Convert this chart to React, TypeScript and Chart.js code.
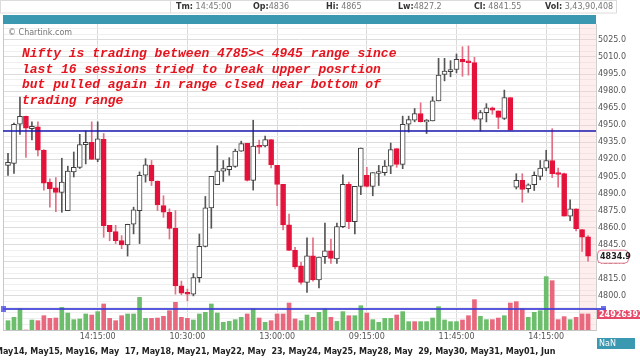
import React, { useEffect, useRef } from "react";
import { Chart, registerables } from "chart.js";
Chart.register(...registerables);

const opens = [4914.7,4916.5,4950.9,4957.9,4947,4948.5,4928,4900,4895,4891,4875,4909,4913,4933,4935,4920,4937.7,4862,4856.5,4848.5,4844.7,4863,4875,4906,4915,4901,4879.4,4873.5,4859.4,4808.8,4803,4801.5,4816,4843.5,4877.4,4897.7,4909.7,4911,4913.8,4927.3,4934,4901.5,4932,4931.8,4937.5,4914.7,4898,4862.4,4840,4826.5,4811.8,4835.3,4814,4834.4,4839.7,4832.4,4860.9,4898,4865.3,4896.2,4905.9,4896.2,4908,4908.3,4914,4929.4,4915.6,4950.9,4954.4,4960.3,4952.9,4953.8,4971.4,4994.7,4997,4999,5008,5006.5,5005,4955.3,4961,4965.3,4962.6,4955.9,4974.4,4895.6,4901.5,4894.2,4897.7,4905,4912.3,4919,4908,4907.4,4870,4876.5,4858.2,4852];
const highs = [4925.3,4952,4974.7,4958,4953,4953,4928.5,4903,4904,4921,4914,4926.5,4942,4945,4953,4953,4942.7,4862,4862,4853,4863,4878,4909,4920.6,4919,4901,4888,4876.5,4875,4813,4806,4819.7,4854.4,4887.4,4905,4932,4919,4921.5,4929,4936,4934,4954.4,4937,4940.5,4937.5,4914.7,4898,4872,4842.6,4829.4,4851,4851,4834,4864,4850,4864,4906.5,4900,4896.2,4930,4913,4908.3,4914.7,4919,4934.4,4929.4,4958,4958,4964.7,4969.7,4955,4975,5008.8,5008.8,5006.8,5012.6,5019,5019.7,5009.7,4963,4969,4966,4962.6,4980.9,4974.4,4907.4,4907.4,4898.5,4909,4919,4928,4947,4912.3,4908,4884.4,4876.5,4858.2,4853];
const lows = [4905.9,4907.6,4942,4921.8,4937,4923,4893,4878,4874,4873.5,4875,4904.5,4912,4916,4920,4918,4851.5,4848.5,4846,4841.5,4835,4854.5,4846,4900,4897,4875,4869,4850,4801.5,4801,4795.6,4800,4812,4843,4859.4,4897.7,4900.6,4906,4913,4927,4901,4893,4925,4931,4912.4,4879.4,4858,4840,4823.6,4810.3,4803,4813,4807,4828.5,4828.5,4828.5,4860,4859,4854.5,4889,4895.6,4888,4897,4906,4907.4,4913,4911.8,4944,4953,4952.9,4942.7,4953.8,4971.4,4989,4992.6,4996,4993,4994,4954.4,4945,4952.9,4959.7,4947,4955,4945.6,4894,4882.3,4891,4892.6,4902,4910,4904,4895.6,4870,4866.2,4857,4839,4830.5];
const closes = [4917.4,4950.9,4957.9,4947.4,4949,4928,4899,4894,4891,4900,4909.7,4913,4933,4935,4920,4938,4861.8,4856.5,4848.5,4844.7,4863,4875.6,4906,4915.3,4901,4880,4873.5,4859.4,4808.8,4802.4,4801.5,4816,4843.5,4877.4,4905,4909.7,4911.8,4913.8,4927.3,4933.9,4901.5,4931.7,4931,4937.5,4915.3,4897.9,4862.4,4840,4825.5,4811.8,4835.3,4814,4834,4839.7,4833,4860.9,4898,4865.3,4896.2,4930,4896.2,4908.3,4909,4914,4928.6,4915.6,4950.9,4955,4960.3,4952.9,4954.4,4971.4,4994,4997.6,4999,5008,5005.9,5005,4955.3,4961.2,4965.3,4963.2,4956.8,4974.4,4945.6,4901.5,4893.5,4897.7,4906,4912.3,4919,4907.4,4907,4870,4876.5,4859,4851.5,4834.9];
// volume in millions of shares
const volumes = [10.8,14.7,24.4,0,11.6,10.8,16.6,13.5,13.9,26.3,19.7,12,12.8,18.6,17.4,21.3,30.2,13.5,10.8,16.6,18.6,18.6,37.9,13.5,13.5,13.9,15.9,22.4,32.1,14.7,13.5,11.6,18.6,20.5,30.2,19.7,8.9,10,12,14.7,18.6,24.4,13.9,8.9,10.8,18.6,18.6,31.3,12.8,10.8,17.4,14.7,20.5,24.4,14.7,10,21.3,16.6,16.6,28.2,19.7,12,8.9,13.5,13.5,17.4,21.3,9.7,9.7,9.7,9.7,13.9,27.1,11.6,9.7,9.7,11.6,16.6,35.2,15.9,12,12,13.9,16.6,31.3,32.9,24.4,14.7,20.5,22.4,61.9,57.2,12,15.5,12,14.7,18.6,18.6];
// 1 = rising volume bar (green), 0 = falling (red)
const volumeUp = [1,1,1,0,1,0,0,0,0,1,1,1,1,1,0,1,0,0,0,0,1,1,1,1,0,0,0,0,0,0,0,1,1,1,1,1,1,1,1,1,0,1,0,1,0,0,0,0,0,1,1,0,1,1,0,1,1,0,1,1,0,1,1,1,1,0,1,1,0,1,1,1,1,1,1,1,0,0,0,1,1,0,0,1,0,0,0,1,1,1,1,0,0,0,1,0,0,0];

const timeTickIndex = [15, 30, 45, 60, 75, 90];
const timeTickLabels = ["14:15:00", "10:30:00", "13:00:00", "09:15:00", "11:45:00", "14:15:00"];
const priceTicks = [4800, 4815, 4830, 4845, 4860, 4875, 4890, 4905, 4920, 4935, 4950, 4965, 4980, 4995, 5010, 5025];
const rangeLine = 4945;
const volumeAvg = 24926392;
const lastPrice = 4834.9;
const dateText = "May14, May15, May16, May  17, May18, May21, May22, May  23, May24, May25, May28, May  29, May30, May31, May01, Jun";
const noteLines = [
  "Nifty is trading between 4785>< 4945 range since",
  "last 16 sessions tried to break upper posrtion",
  "but pulled again in range clsed near bottom of",
  "trading range",
];
const headerKeys = ["Tm:", "Op:", "Hi:", "Lw:", "Cl:", "Vol:"];
const headerVals = [" 14:45:00", "4836", " 4865", "4827.2", " 4841.55", " 3,43,90,408"];
const shadeFromIndex = 95.5;

const RED = "rgb(228,18,58)";
const RED_WICK = "rgb(228,110,132)";
const UP_LINE = "#3e3e3e";
const VOL_G = "rgb(108,190,108)";
const VOL_R = "rgb(232,104,126)";
const FONT = "'DejaVu Sans'";

function roundRect(ctx: CanvasRenderingContext2D, x: number, y: number, w: number, h: number, r: number) {
  ctx.beginPath();
  ctx.moveTo(x + r, y);
  ctx.lineTo(x + w - r, y);
  ctx.quadraticCurveTo(x + w, y, x + w, y + r);
  ctx.lineTo(x + w, y + h - r);
  ctx.quadraticCurveTo(x + w, y + h, x + w - r, y + h);
  ctx.lineTo(x + r, y + h);
  ctx.quadraticCurveTo(x, y + h, x, y + h - r);
  ctx.lineTo(x, y + r);
  ctx.quadraticCurveTo(x, y, x + r, y);
  ctx.closePath();
}

const overlay = {
  id: "overlay",
  beforeDraw(chart: any) {
    const ctx = chart.ctx as CanvasRenderingContext2D;
    ctx.save();
    ctx.fillStyle = "#ffffff";
    ctx.fillRect(0, 0, chart.width, chart.height);
    ctx.restore();
  },
  beforeDatasetsDraw(chart: any) {
    const ctx = chart.ctx as CanvasRenderingContext2D;
    const a = chart.chartArea;
    const x0 = chart.scales.x.getPixelForValue(shadeFromIndex);
    ctx.save();
    ctx.fillStyle = "rgba(252,205,205,0.35)";
    ctx.fillRect(x0, a.top, a.right - x0, a.bottom - a.top);
    ctx.strokeStyle = "#b6d6e4";
    ctx.lineWidth = 1;
    ctx.beginPath();
    ctx.moveTo(Math.round(x0) + 0.5, a.top);
    ctx.lineTo(Math.round(x0) + 0.5, a.bottom);
    ctx.stroke();
    ctx.strokeStyle = "#c8c8c8";
    ctx.beginPath();
    ctx.moveTo(a.left + 0.5, a.top);
    ctx.lineTo(a.left + 0.5, a.bottom);
    ctx.stroke();
    ctx.restore();
  },
  afterDatasetsDraw(chart: any) {
    const ctx = chart.ctx as CanvasRenderingContext2D;
    const a = chart.chartArea;
    const ys = chart.scales.y;
    const vs = chart.scales.yv;
    ctx.save();
    const yr = Math.round(ys.getPixelForValue(rangeLine));
    ctx.strokeStyle = "#1818b0";
    ctx.lineWidth = 1.5;
    ctx.beginPath();
    ctx.moveTo(a.left, yr);
    ctx.lineTo(a.right, yr);
    ctx.stroke();
    const yv = Math.round(vs.getPixelForValue(volumeAvg / 1e6));
    ctx.strokeStyle = "rgba(60,60,215,0.85)";
    ctx.lineWidth = 2;
    ctx.beginPath();
    ctx.moveTo(a.left, yv);
    ctx.lineTo(a.right + 10, yv);
    ctx.stroke();
    ctx.fillStyle = "rgba(80,80,230,0.8)";
    ctx.fillRect(a.left - 2, yv - 3, 5, 6);
    ctx.fillRect(a.right + 5, yv - 3, 5, 6);
    ctx.fillStyle = "rgb(232,72,104)";
    ctx.fillRect(a.right + 1, yv + 1, 44, 9);
    ctx.fillStyle = "#ffffff";
    ctx.font = `bold 8px ${FONT}`;
    ctx.textBaseline = "middle";
    ctx.textAlign = "left";
    ctx.fillText(String(volumeAvg), a.right + 3, yv + 5.5);
    const yl = ys.getPixelForValue(lastPrice);
    roundRect(ctx, a.right + 1.5, yl - 6, 31, 13, 4);
    ctx.fillStyle = "#ffffff";
    ctx.fill();
    ctx.strokeStyle = "rgb(226,120,140)";
    ctx.lineWidth = 1;
    ctx.stroke();
    ctx.fillStyle = "#222";
    ctx.font = `bold 8px ${FONT}`;
    ctx.fillText(lastPrice.toFixed(1), a.right + 4, yl + 0.5);
    ctx.fillStyle = "rgb(58,152,176)";
    ctx.fillRect(a.right + 1, 338, 38, 11);
    ctx.fillStyle = "#ffffff";
    ctx.font = `8px ${FONT}`;
    ctx.fillText("NaN", a.right + 3, 343.5);
    ctx.restore();
  },
  afterDraw(chart: any) {
    const ctx = chart.ctx as CanvasRenderingContext2D;
    const a = chart.chartArea;
    ctx.save();
    ctx.strokeStyle = "#dcdcdc";
    ctx.lineWidth = 1;
    ctx.strokeRect(0.5, 0.5, 616, 12.5);
    ctx.beginPath();
    ctx.moveTo(170.5, 0);
    ctx.lineTo(170.5, 13);
    ctx.stroke();
    const hx = [176, 253, 326, 398, 474, 545];
    ctx.textBaseline = "middle";
    ctx.textAlign = "left";
    headerKeys.forEach((k, i) => {
      ctx.font = `bold 8px ${FONT}`;
      ctx.fillStyle = "#333";
      ctx.fillText(k, hx[i], 7);
      const w = ctx.measureText(k).width;
      ctx.font = `8px ${FONT}`;
      ctx.fillStyle = "#777";
      ctx.fillText(headerVals[i], hx[i] + w, 7);
    });
    ctx.fillStyle = "rgb(58,152,176)";
    ctx.fillRect(a.left, 15, a.right - a.left, 9);
    ctx.fillStyle = "#777";
    ctx.font = `8px ${FONT}`;
    ctx.fillText("\u00a9 Chartink.com", 8, 33);
    ctx.fillStyle = "rgb(230,20,30)";
    ctx.font = "italic bold 13px 'Liberation Mono'";
    const ly = [54, 70, 85, 101];
    noteLines.forEach((t, i) => ctx.fillText(t, 22, ly[i]));
    ctx.fillStyle = "#222";
    ctx.font = `bold 8px ${FONT}`;
    ctx.fillText(dateText, -5, 352, 573);
    ctx.restore();
  },
};

export default function App() {
  const ref = useRef<HTMLCanvasElement>(null);
  useEffect(() => {
    const canvas = ref.current;
    if (!canvas) return;
    const idx = opens.map((_, i) => i);
    const isUp = idx.map((i) => closes[i] >= opens[i]);
    const bodyData = idx.map((i) => {
      let lo = Math.min(opens[i], closes[i]);
      let hi = Math.max(opens[i], closes[i]);
      if (hi - lo < 1.6) {
        const m = (hi + lo) / 2;
        lo = m - 0.8;
        hi = m + 0.8;
      }
      return { x: i, y: [lo, hi] };
    });
    const wickData = idx.map((i) => ({ x: i, y: [lows[i], highs[i]] }));
    const volData = idx.map((i) => ({ x: i, y: volumes[i] }));
    const pitch = 5.98;
    const xMin = -5 / pitch;
    const xMax = xMin + 593 / pitch;

    const chart = new Chart(canvas, {
      type: "bar",
      data: {
        datasets: [
          {
            type: "bar",
            data: bodyData as any,
            xAxisID: "x",
            yAxisID: "y",
            grouped: false,
            barThickness: 5,
            backgroundColor: idx.map((i) => (isUp[i] ? "#ffffff" : RED)),
            borderColor: idx.map((i) => (isUp[i] ? UP_LINE : RED)),
            borderWidth: 1,
            borderSkipped: false,
            order: 1,
          },
          {
            type: "bar",
            data: wickData as any,
            xAxisID: "x",
            yAxisID: "y",
            grouped: false,
            barThickness: 1,
            backgroundColor: idx.map((i) => (isUp[i] ? "#555555" : RED_WICK)),
            borderWidth: 0,
            order: 2,
          },
          {
            type: "bar",
            data: volData as any,
            xAxisID: "x",
            yAxisID: "yv",
            grouped: false,
            barThickness: 4,
            backgroundColor: idx.map((i) => (volumeUp[i] ? VOL_G : VOL_R)),
            borderWidth: 0,
            order: 3,
          },
        ],
      },
      options: {
        responsive: false,
        animation: false,
        devicePixelRatio: 1,
        layout: { padding: { left: 3, top: 24, right: 0, bottom: 0 } },
        plugins: { legend: { display: false }, tooltip: { enabled: false } },
        scales: {
          x: {
            type: "linear",
            min: xMin,
            max: xMax,
            offset: false,
            position: "bottom",
            afterFit: (s: any) => {
              s.height = 33;
            },
            afterBuildTicks: (s: any) => {
              s.ticks = timeTickIndex.map((v) => ({ value: v }));
            },
            grid: { color: "#dadada", tickLength: 0, offset: false },
            border: { color: "#c4c4c4" },
            ticks: {
              autoSkip: false,
              maxRotation: 0,
              padding: 2,
              color: "#555",
              font: { family: "DejaVu Sans", size: 8 },
              callback: (v: any) => {
                const k = timeTickIndex.indexOf(Number(v));
                return k >= 0 ? timeTickLabels[k] : "";
              },
            },
          },
          y: {
            type: "linear",
            position: "right",
            min: 4770,
            max: 5039,
            afterFit: (s: any) => {
              s.width = 44;
            },
            afterBuildTicks: (s: any) => {
              const t = [];
              for (let v = 4770; v <= 5035; v += 5) t.push({ value: v });
              s.ticks = t;
            },
            grid: {
              tickLength: 0,
              color: (c: any) => (priceTicks.includes(c.tick?.value) ? "#dcdcdc" : "#efefef"),
            },
            border: { color: "#cfcfcf" },
            ticks: {
              autoSkip: false,
              padding: 2,
              color: "#555",
              font: { family: "DejaVu Sans", size: 8 },
              callback: (v: any) => (priceTicks.includes(Number(v)) ? Number(v).toFixed(1) : ""),
            },
          },
          yv: {
            type: "linear",
            display: false,
            min: 0,
            max: 355,
          },
        },
      },
      plugins: [overlay],
    });
    return () => chart.destroy();
  }, []);
  return (
    <div style={{ position: "absolute", left: 0, top: 0, width: 640, height: 363 }}>
      <canvas ref={ref} width={640} height={363} style={{ display: "block" }} />
    </div>
  );
}
